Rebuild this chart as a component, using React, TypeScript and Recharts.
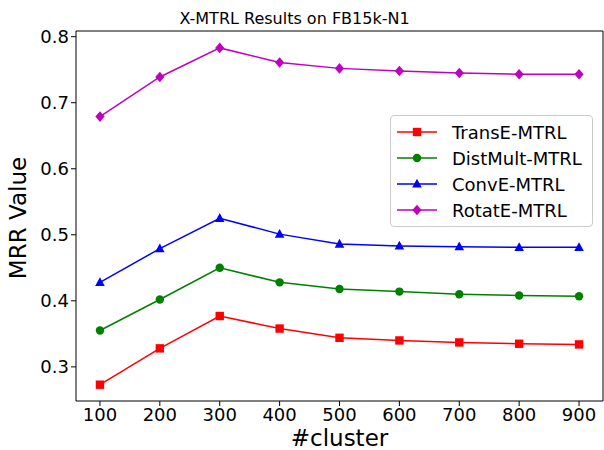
import { Line, LineChart, ReferenceLine, XAxis, YAxis } from "recharts";

const clusters = [100, 200, 300, 400, 500, 600, 700, 800, 900];
const transE = [0.273, 0.328, 0.377, 0.358, 0.344, 0.34, 0.337, 0.335, 0.334];
const distMult = [0.355, 0.402, 0.45, 0.428, 0.418, 0.414, 0.41, 0.408, 0.407];
const convE = [0.428, 0.479, 0.525, 0.501, 0.486, 0.483, 0.482, 0.481, 0.481];
const rotatE = [0.679, 0.739, 0.783, 0.761, 0.752, 0.748, 0.745, 0.743, 0.743];
const xTicks = [100, 200, 300, 400, 500, 600, 700, 800, 900];
const yTicks = [0.3, 0.4, 0.5, 0.6, 0.7, 0.8];
const xDomain = [60, 940];
const yDomain = [0.2483, 0.8086];

const data = clusters.map((c, i) => ({
  cluster: c,
  transE: transE[i],
  distMult: distMult[i],
  convE: convE[i],
  rotatE: rotatE[i],
}));

const FONT = "'DejaVu Sans', sans-serif";

type Shape = "square" | "circle" | "triangle" | "diamond";

const series: { key: string; name: string; color: string; shape: Shape }[] = [
  { key: "transE", name: "TransE-MTRL", color: "#ff0000", shape: "square" },
  { key: "distMult", name: "DistMult-MTRL", color: "#008000", shape: "circle" },
  { key: "convE", name: "ConvE-MTRL", color: "#0000ff", shape: "triangle" },
  { key: "rotatE", name: "RotatE-MTRL", color: "#bf00bf", shape: "diamond" },
];

function marker(shape: Shape, cx: number, cy: number, color: string, key?: string) {
  if (shape === "square") return <rect key={key} x={cx - 4.2} y={cy - 4.2} width={8.4} height={8.4} fill={color} />;
  if (shape === "circle") return <circle key={key} cx={cx} cy={cy} r={4.2} fill={color} />;
  if (shape === "triangle")
    return <polygon key={key} points={`${cx},${cy - 5.2} ${cx + 4.8},${cy + 3.6} ${cx - 4.8},${cy + 3.6}`} fill={color} />;
  return <polygon key={key} points={`${cx},${cy - 5.3} ${cx + 4.6},${cy} ${cx},${cy + 5.3} ${cx - 4.6},${cy}`} fill={color} />;
}

function LegendBox() {
  return (
    <div
      style={{
        position: "absolute",
        left: 390,
        top: 115,
        width: 201,
        border: "1px solid #cccccc",
        borderRadius: 4,
        background: "rgba(255,255,255,0.8)",
        padding: "3px 0",
        fontFamily: FONT,
        fontSize: 18,
      }}
    >
      {series.map((s) => (
        <div key={s.key} style={{ display: "flex", alignItems: "center", height: 26 }}>
          <svg width={40} height={14} style={{ marginLeft: 6, marginRight: 15 }}>
            <line x1={0} y1={7} x2={40} y2={7} stroke={s.color} strokeWidth={1.5} />
            {marker(s.shape, 20, 7, s.color)}
          </svg>
          <span style={{ color: "#000" }}>{s.name}</span>
        </div>
      ))}
    </div>
  );
}

export default function App() {
  return (
    <div style={{ position: "absolute", left: 0, top: 0, width: 604, height: 450, background: "#fff" }}>
      <div
        style={{
          position: "absolute",
          left: 0,
          width: 589,
          top: 9,
          textAlign: "center",
          fontFamily: FONT,
          fontSize: 16,
          lineHeight: "20px",
        }}
      >
        X-MTRL Results on FB15k-N1
      </div>
      <LineChart width={604} height={450} data={data} margin={{ top: 31, right: 1, left: 0, bottom: 0 }}>
        <XAxis
          dataKey="cluster"
          type="number"
          domain={xDomain}
          ticks={xTicks}
          height={49}
          tickSize={5}
          tick={{ fontSize: 18, fill: "#000", fontFamily: FONT }}
          axisLine={{ stroke: "#000", strokeWidth: 1 }}
          tickLine={{ stroke: "#000" }}
          allowDataOverflow
        />
        <YAxis
          type="number"
          domain={yDomain}
          ticks={yTicks}
          width={76}
          tickSize={5}
          tickFormatter={(v: number) => v.toFixed(1)}
          tick={{ fontSize: 18, fill: "#000", fontFamily: FONT }}
          axisLine={{ stroke: "#000", strokeWidth: 1 }}
          tickLine={{ stroke: "#000" }}
          allowDataOverflow
        />
        <ReferenceLine y={yDomain[1]} stroke="#000" strokeWidth={1} />
        <ReferenceLine x={xDomain[1]} stroke="#000" strokeWidth={1} />
        {series.map((s) => (
          <Line
            key={s.key}
            dataKey={s.key}
            name={s.name}
            stroke={s.color}
            strokeWidth={1.5}
            isAnimationActive={false}
            dot={(p: any) => marker(s.shape, p.cx, p.cy, s.color, `${s.key}-${p.index}`)}
            activeDot={false}
          />
        ))}
      </LineChart>
      <LegendBox />
      <div
        style={{
          position: "absolute",
          left: 76,
          width: 527,
          top: 425,
          textAlign: "center",
          fontFamily: FONT,
          fontSize: 23,
          lineHeight: "27px",
        }}
      >
        #cluster
      </div>
      <div
        style={{
          position: "absolute",
          left: 18,
          top: 218,
          transform: "translate(-50%, -50%) rotate(-90deg)",
          whiteSpace: "nowrap",
          fontFamily: FONT,
          fontSize: 23,
          lineHeight: "27px",
        }}
      >
        MRR Value
      </div>
    </div>
  );
}
